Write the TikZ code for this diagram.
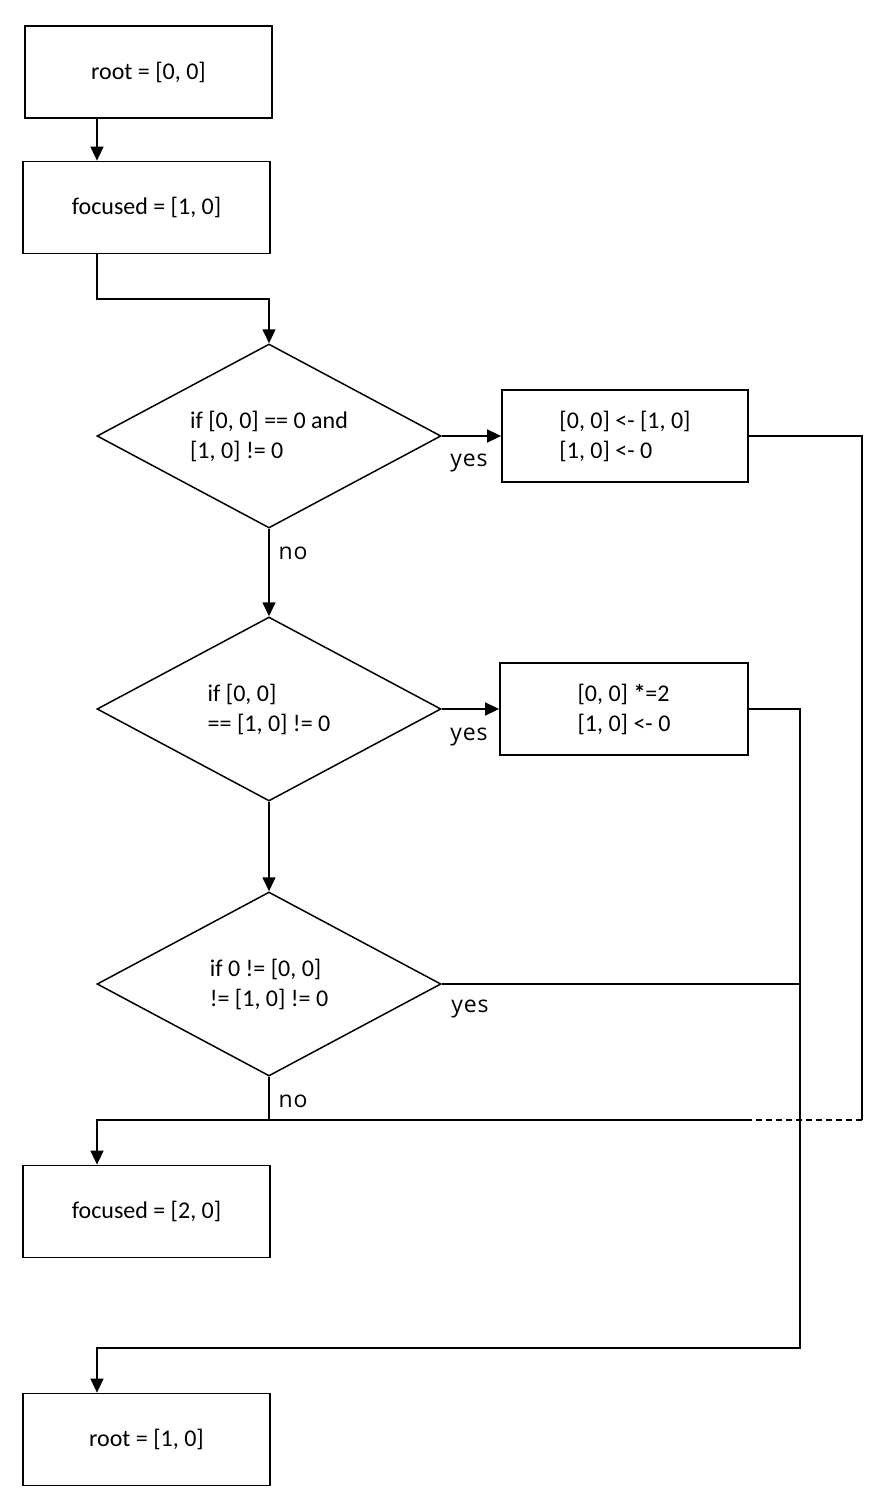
\documentclass[tikz,border=0pt]{standalone}
\usepackage{fontspec}
\setmainfont{Carlito}
\newfontfamily\labelfont{Open Sans}
\usetikzlibrary{shapes.geometric,arrows.meta,calc}
\tikzset{
  box/.style={draw, line width=1.8pt, rectangle, minimum width=247pt, minimum height=92pt, inner sep=0pt, align=center, font=\fontsize{24}{30}\selectfont},
  cond/.style={draw, line width=1.5pt, diamond, aspect=1.87, minimum width=344pt, minimum height=184pt, inner sep=0pt, align=left, font=\fontsize{24}{30}\selectfont},
  wire/.style={line width=1.6pt},
  arr/.style={wire, -{Triangle[length=14pt,width=13pt]}},
  lbl/.style={inner sep=0pt, font=\labelfont\fontsize{23}{28}\selectfont\addfontfeature{LetterSpace=4}},
}
\begin{document}
\begin{tikzpicture}[x=1pt, y=-1pt]
\useasboundingbox (0,0) rectangle (894,1512);
% nodes
\node[box] (b1) at (148.5,72) {root = [0, 0]};
\node[box] (b2) at (146.5,207.5) {focused = [1, 0]};
\node[cond] (d1) at (269,436) {if [0, 0] == 0 and\\{}[1, 0] != 0};
\node[box, minimum width=246pt, align=left] (b3) at (625,436) {[0, 0] <- [1, 0]\\{}[1, 0] <- 0};
\node[cond] (d2) at (269,709) {if [0, 0]\\== [1, 0] != 0};
\node[box, minimum width=248pt, align=left] (b4) at (624,709) {[0, 0] \textbf{*}=2\\{}[1, 0] <- 0};
\node[cond] (d3) at (269,984) {if 0 != [0, 0]\\!= [1, 0] != 0};
\node[box] (b5) at (146.5,1211.5) {focused = [2, 0]};
\node[box] (b6) at (146.5,1439.5) {root = [1, 0]};
% helper coordinates
\coordinate (cx) at (97,0);
\coordinate (top) at (0,299);
\coordinate (m) at (269,1120);
\coordinate (r) at (862,1120);
\coordinate (dl) at (748,1120);
\coordinate (v) at (800,1348);
% labels
\node[lbl] (y1) at (469,463) {yes};
\node[lbl] (y2) at (469,737) {yes};
\node[lbl] (y3) at (470,1009) {yes};
\node[lbl] (n1) at (293,553) {no};
\node[lbl] (n2) at (293,1101) {no};
% connectors
\draw[arr] (b1.south -| cx) -- (b2.north -| cx);
\draw[arr] (b2.south -| cx) -- (cx |- top) -- (d1.north |- top) -- (d1.north);
\draw[arr] (d1.east) -- (b3.west);
\draw[arr] (d1.south) -- (d2.north);
\draw[arr] (d2.east) -- (b4.west);
\draw[arr] (d2.south) -- (d3.north);
\draw[wire] (d3.east) -- (d3.east -| v);
\draw[wire] (d3.south) -- (m);
\draw[wire] (b3.east) -| (r);
\draw[wire, dashed, dash pattern=on 6pt off 4pt] (r) -- (dl);
\draw[arr] (dl) -- (cx |- m) -- (b5.north -| cx);
\draw[arr] (b4.east) -| (v) -| (b6.north -| cx);
\end{tikzpicture}
\end{document}
